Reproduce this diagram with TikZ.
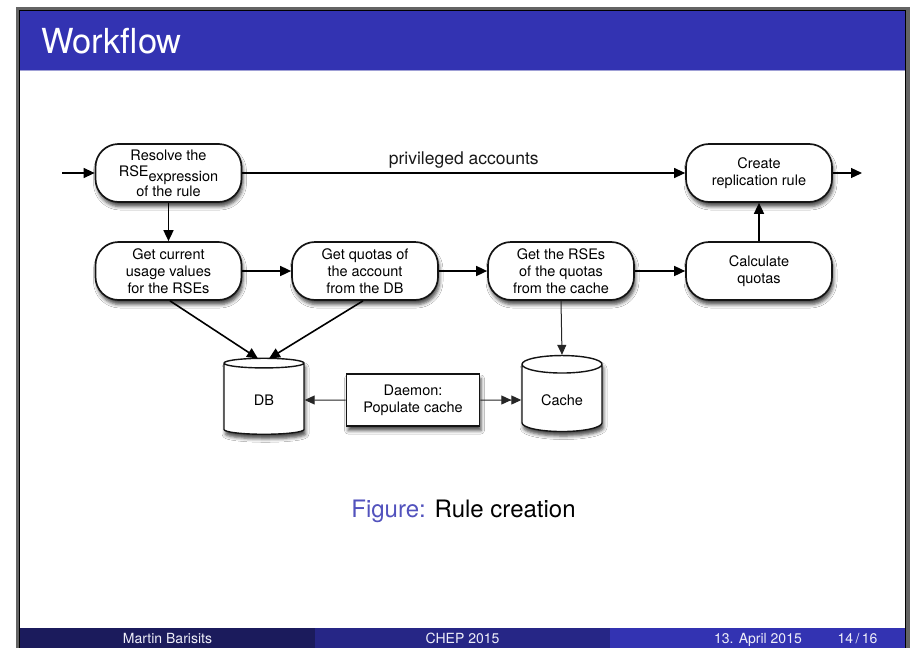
\documentclass[tikz,border=0pt]{standalone}
\usepackage{fontspec}
\setmainfont{TeX Gyre Heros}
\setsansfont{TeX Gyre Heros}
\usetikzlibrary{arrows.meta,shapes.geometric,shadows.blur,calc}

\definecolor{slideblue}{RGB}{51,51,178}
\definecolor{footmid}{RGB}{38,38,134}
\definecolor{footdark}{RGB}{27,27,92}
\definecolor{rulelav}{RGB}{160,160,214}
\definecolor{framegray}{RGB}{100,100,100}
\definecolor{inkline}{RGB}{20,20,20}

\tikzset{
  x=1pt, y=-1pt,
  softshadow/.style={blur shadow={shadow xshift=1.5pt, shadow yshift=-4.5pt, shadow blur radius=3.5pt, shadow opacity=70}},
  flowbox/.style={draw=inkline, line width=1.7pt, fill=white, rounded corners=23pt,
    minimum width=146pt, minimum height=58pt, inner sep=2pt, align=center,
    font=\fontsize{14.5}{16.8}\selectfont, softshadow},
  storecyl/.style={cylinder, shape border rotate=90, aspect=0.36, draw=inkline,
    line width=1.4pt, fill=white, minimum width=80pt, minimum height=76pt,
    font=\fontsize{14.5}{16.8}\selectfont, softshadow},
  daemonbox/.style={draw=inkline, line width=1.7pt, fill=white,
    minimum width=133pt, minimum height=52pt, align=center,
    font=\fontsize{14.5}{16.8}\selectfont, softshadow},
  bigarrow/.style={line width=1.6pt, -{Triangle[length=11pt,width=10pt]}},
  midarrow/.style={line width=1.2pt, -{Triangle[length=11pt,width=10pt]}},
  thinarrow/.style={line width=1pt, color=black!85, -{Triangle[length=10pt,width=9pt]}},
  foottext/.style={text=white!92!slideblue, font=\fontsize{14}{16}\selectfont, anchor=base},
}

\begin{document}
\begin{tikzpicture}
\useasboundingbox (0,0) rectangle (910,648);

% window frame and slide background
\fill[white] (0,0) rectangle (910,648);
\fill[framegray] (16,7) rectangle (910,648);
\fill[black] (19,10) rectangle (906,648);
\fill[white] (20,11) rectangle (905,648);

% title bar
\fill[slideblue] (20,11) rectangle (905,70);
\fill[rulelav] (20,70) rectangle (905,71.3);
\node[anchor=base west, text=white, font=\fontsize{34.5}{38}\selectfont, inner sep=0pt] (title) at (41,53) {Workflow};

% footer
\fill[footdark] (20,628) rectangle (315,648);
\fill[footmid] (315,628) rectangle (610,648);
\fill[slideblue] (610,628) rectangle (905,648);
\node[foottext] (author) at (167.5,643) {Martin Barisits};
\node[foottext] (conf) at (462.5,643) {CHEP 2015};
\node[foottext] (date) at (758,643) {13. April 2015};
\node[foottext] (page) at (857.5,643) {14\,/\,16};

% process steps
\node[flowbox] (resolve) at (168.5,173) {Resolve the\\RSE\raisebox{-4.5pt}{expression}\\of the rule};
\node[flowbox] (usage)   at (168.5,271) {Get current\\usage values\\for the RSEs};
\node[flowbox] (quotas)  at (365,271)   {Get quotas of\\the account\\from the DB};
\node[flowbox] (rses)    at (561,271)   {Get the RSEs\\of the quotas\\from the cache};
\node[flowbox] (calc)    at (759,271)   {Calculate\\quotas};
\node[flowbox] (create)  at (759,173)   {Create\\replication rule};

% storage and daemon
\node[storecyl] (db)    at (264,400) {DB};
\node[storecyl] (cache) at (562,400) {Cache};
\node[daemonbox] (daemon) at (413,400) {Daemon:\\Populate cache};

% loose ends of the flow
\coordinate (start) at (62,173);
\coordinate (finish) at (862,173);

% connectors
\draw[midarrow] (start) -- (resolve.west);
\draw[midarrow] (create.east) -- (finish);
\draw[midarrow] (resolve.east) -- node[above=1pt, font=\fontsize{17.5}{20}\selectfont, text=black!90] (priv) {privileged accounts} (create.west);
\draw[bigarrow] (resolve.south) -- (usage.north);
\draw[bigarrow] (usage.east) -- (quotas.west);
\draw[bigarrow] (quotas.east) -- (rses.west);
\draw[bigarrow] (rses.east) -- (calc.west);
\draw[bigarrow] (calc.north) -- (create.south);
\draw[bigarrow] ([xshift=1.5pt]usage.south) -- ($(db.top)+(-6,1)$);
\draw[bigarrow] ([xshift=-2pt]quotas.south) -- ($(db.top)+(5,1)$);
\draw[thinarrow] (rses.south) -- (cache.top);
\draw[thinarrow] (daemon.west) -- (db.east);
\draw[line width=1pt, color=black!85, -{Triangle[length=10pt,width=9pt]Triangle[length=10pt,width=9pt]}] (daemon.east) -- (cache.west);

% caption
\node[anchor=base, font=\fontsize{24}{27}\selectfont, inner sep=0pt] (caption) at (463.5,517)
  {\textcolor{slideblue!85!white}{Figure:} Rule creation};
\end{tikzpicture}
\end{document}
